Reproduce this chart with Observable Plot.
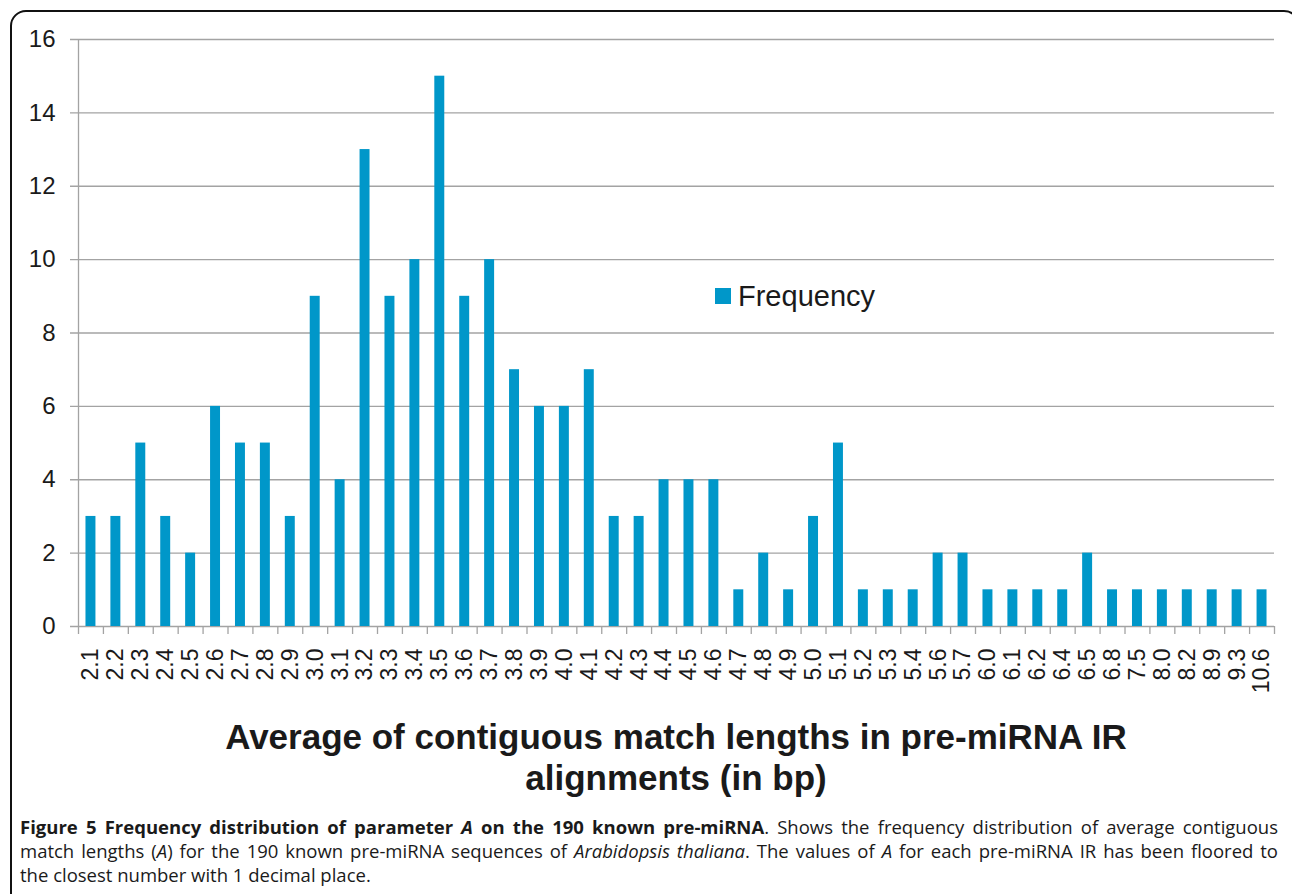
<!DOCTYPE html>
<html>
<head>
<meta charset="utf-8">
<script src="https://cdn.jsdelivr.net/npm/d3@7"></script>
<script src="https://cdn.jsdelivr.net/npm/@observablehq/plot@0.6"></script>
<style>
  html, body { margin: 0; padding: 0; background: #fff; }
  #wrap { position: relative; width: 1292px; height: 894px; overflow: hidden; }
  #frame { position: absolute; left: 10px; top: 10px; width: 1290px; height: 900px;
           border: 2px solid #111; border-radius: 16px; box-sizing: border-box; }
  #chart { position: absolute; left: 0; top: 0; }
  #xtitle { position: absolute; left: 78px; width: 1196px; top: 716px; text-align: center;
            font-family: "Liberation Sans", Arial, sans-serif; font-weight: bold; font-size: 35px;
            line-height: 41px; color: #1a1a1a; }
  #legend { position: absolute; left: 715px; top: 279px; font-family: "Liberation Sans", Arial, sans-serif;
            font-size: 29px; line-height: 34px; color: #1a1a1a; display: flex; align-items: center; }
  #legend span.sw { display: inline-block; width: 16px; height: 16px; background: #0097c9; margin-right: 7px; }
  #caption { position: absolute; left: 20px; width: 1258px; top: 815px; font-family: "Open Sans", sans-serif;
             font-size: 18.5px; line-height: 24px; color: #1a1a1a; }
  #caption .j { text-align: justify; text-align-last: justify; white-space: nowrap; }
</style>
</head>
<body>
<div id="wrap">
  <div id="frame"></div>
  <div id="chart"></div>
  <div id="legend"><span class="sw"></span>Frequency</div>
  <div id="xtitle">Average of contiguous match lengths in pre-miRNA IR<br>alignments (in bp)</div>
  <div id="caption">
    <div class="j"><b>Figure 5 Frequency distribution of parameter <i>A</i> on the 190 known pre-miRNA</b>. Shows the frequency distribution of average contiguous</div>
    <div class="j">match lengths (<i>A</i>) for the 190 known pre-miRNA sequences of <i>Arabidopsis thaliana</i>. The values of <i>A</i> for each pre-miRNA IR has been floored to</div>
    <div>the closest number with 1 decimal place.</div>
  </div>
</div>
<script>
const categories = ["2.1","2.2","2.3","2.4","2.5","2.6","2.7","2.8","2.9","3.0","3.1","3.2","3.3","3.4","3.5","3.6","3.7","3.8","3.9","4.0","4.1","4.2","4.3","4.4","4.5","4.6","4.7","4.8","4.9","5.0","5.1","5.2","5.3","5.4","5.6","5.7","6.0","6.1","6.2","6.4","6.5","6.8","7.5","8.0","8.2","8.9","9.3","10.6"];
const frequency = [3,3,5,3,2,6,5,5,3,9,4,13,9,10,15,9,10,7,6,6,7,3,3,4,4,4,1,2,1,3,5,1,1,1,2,2,1,1,1,1,2,1,1,1,1,1,1,1];
const yTicks = [0,2,4,6,8,10,12,14,16];

const data = categories.map((c, i) => ({cat: c, value: frequency[i]}));

const W = 1292, H = 720;
const mL = 78, mR = 18, mT = 39, mB = 94;
const step = (W - mL - mR) / categories.length;
const grey = "#a3a3a3";
const font = "Liberation Sans, Arial, sans-serif";
const tickLen = 8 * 16 / (H - mT - mB);

const chart = Plot.plot({
  width: W, height: H,
  marginLeft: mL, marginRight: mR, marginTop: mT, marginBottom: mB,
  style: {fontFamily: font, fontSize: "20px", color: "#1a1a1a", background: "transparent"},
  x: {domain: categories, paddingInner: 0.6, paddingOuter: 0.3, align: 0.5, axis: null, label: null},
  y: {domain: [0, 16], axis: null, label: null},
  marks: [
    Plot.ruleY(yTicks, {y: d => d, stroke: grey, strokeWidth: 1.3, insetLeft: -8}),
    Plot.ruleX([categories[0]], {x: d => d, y1: 0, y2: 16, dx: -step / 2, stroke: grey, strokeWidth: 1.3}),
    Plot.ruleX(categories, {x: d => d, y1: 0, y2: -tickLen, dx: -step / 2, stroke: grey, strokeWidth: 1.3}),
    Plot.ruleX([categories[categories.length - 1]], {x: d => d, y1: 0, y2: -tickLen, dx: step / 2, stroke: grey, strokeWidth: 1.3}),
    Plot.barY(data, {x: "cat", y: "value", fill: "#0097c9"}),
    Plot.axisY({ticks: yTicks, tickSize: 0, tickPadding: 23, fontSize: 24, fill: "#1a1a1a", label: null, tickFormat: d => String(d)}),
    Plot.axisX({tickRotate: -90, tickSize: 0, tickPadding: 22, fontSize: 23, fill: "#1a1a1a", label: null})
  ]
});
document.getElementById("chart").appendChild(chart);
</script>
</body>
</html>
